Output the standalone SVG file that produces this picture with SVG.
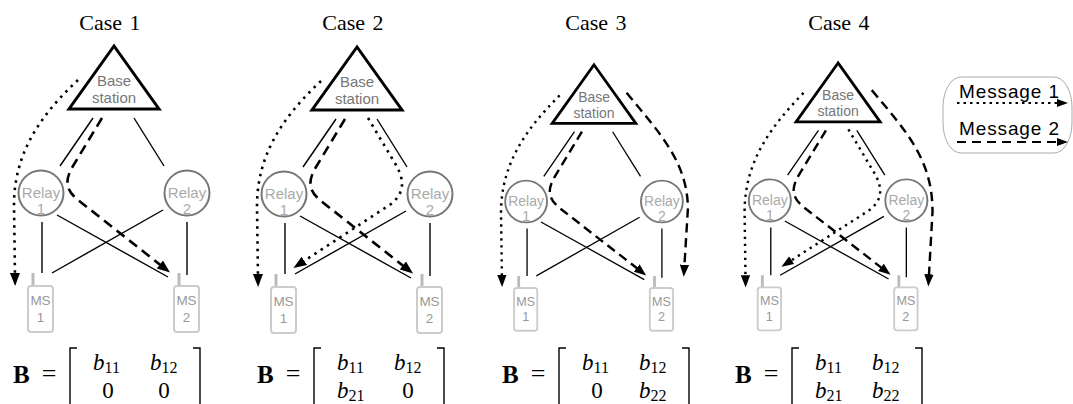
<svg xmlns="http://www.w3.org/2000/svg" width="1073" height="404" viewBox="0 0 1073 404">
<defs>
<style>
.title{font-family:"Liberation Serif","Times New Roman",serif;font-size:22px;fill:#000;text-anchor:middle;word-spacing:2px}
.bs{fill:#fff;stroke:#000;stroke-width:3;stroke-linejoin:miter}
.bst{font-family:"Liberation Sans",Arial,sans-serif;font-size:15px;fill:#777;text-anchor:middle}
.relay{fill:#fff;stroke:#777;stroke-width:2}
.rt{font-family:"Liberation Sans",Arial,sans-serif;font-size:15px;fill:#aaa;text-anchor:middle}
.ms{fill:#fff;stroke:#ccc;stroke-width:2}
.ant{stroke:#bbb;stroke-width:3}
.mst{font-family:"Liberation Sans",Arial,sans-serif;font-size:13.5px;fill:#999;text-anchor:middle}
.link{stroke:#000;stroke-width:1.4;fill:none}
.m1{stroke:#000;stroke-width:2.6;fill:none;stroke-dasharray:2.5 5;marker-end:url(#ah)}
.m2{stroke:#000;stroke-width:2.6;fill:none;stroke-dasharray:10 6;marker-end:url(#ah)}
.mx{font-family:"Liberation Serif","Times New Roman",serif;font-size:23px;fill:#000}
.mb{font-weight:bold;font-size:25px}
.it{font-style:italic}
.sub{font-size:16px}
.br{stroke:#000;stroke-width:1.4;fill:none}
.leg{font-family:"Liberation Sans",Arial,sans-serif;font-size:19px;fill:#000}
</style>
<marker id="ah" markerUnits="userSpaceOnUse" markerWidth="14" markerHeight="12" viewBox="0 0 14 12" refX="4" refY="6" orient="auto">
<path d="M0,1 L13,6 L0,11 z" fill="#000"/>
</marker>
<marker id="ahs" markerUnits="userSpaceOnUse" markerWidth="12" markerHeight="10" viewBox="0 0 12 10" refX="3" refY="5" orient="auto">
<path d="M0,1 L11,5 L0,9 z" fill="#000"/>
</marker>
</defs>
<rect width="1073" height="404" fill="#fff"/>

<g id="titles">
<text class="title" x="110" y="30">Case 1</text>
<text class="title" x="353" y="30">Case 2</text>
<text class="title" x="596" y="30">Case 3</text>
<text class="title" x="839" y="30">Case 4</text>
</g>

<!-- Case 1 -->
<g id="case1">
<g id="c1-links">
<line class="link" x1="93" y1="118" x2="60" y2="166"/>
<line class="link" x1="134" y1="118" x2="164" y2="166"/>
<line class="link" x1="42" y1="222" x2="42" y2="273"/>
<line class="link" x1="57" y1="215" x2="168" y2="277"/>
<line class="link" x1="163" y1="210" x2="52" y2="273"/>
<line class="link" x1="187" y1="222" x2="187" y2="275"/>
<path class="m1" d="M78,80 C44,112 14,150 14,205 L15,277"/>
<path class="m2" d="M102,118 L73,166 C64,181 66,190 78,200 L163,267"/>
</g>
<g id="c1-bs"><polygon class="bs" points="114,46 69,109 159,109"/><text class="bst" x="114" y="86">Base</text><text class="bst" x="114" y="103">station</text></g>
<g id="c1-r1"><circle class="relay" cx="41" cy="193" r="22.5"/><text class="rt" x="41" y="198">Relay</text><text class="rt" x="41" y="214">1</text></g>
<g id="c1-r2"><circle class="relay" cx="187" cy="193" r="22.5"/><text class="rt" x="187" y="198">Relay</text><text class="rt" x="187" y="214">2</text></g>
<g id="c1-ms1"><line class="ant" x1="33" y1="273" x2="33" y2="286"/><rect class="ms" x="28" y="286" width="25" height="46" rx="3"/><text class="mst" x="40.5" y="305">MS</text><text class="mst" x="40.5" y="322">1</text></g>
<g id="c1-ms2"><line class="ant" x1="179" y1="273" x2="179" y2="286"/><rect class="ms" x="174" y="286" width="25" height="46" rx="3"/><text class="mst" x="186.5" y="305">MS</text><text class="mst" x="186.5" y="322">2</text></g>
</g>

<!-- Case 2 -->
<g id="case2" transform="translate(243,1)">
<g id="c2-links">
<line class="link" x1="93" y1="118" x2="60" y2="166"/>
<line class="link" x1="134" y1="118" x2="164" y2="166"/>
<line class="link" x1="42" y1="222" x2="42" y2="273"/>
<line class="link" x1="57" y1="215" x2="168" y2="277"/>
<line class="link" x1="163" y1="210" x2="52" y2="273"/>
<line class="link" x1="187" y1="222" x2="187" y2="275"/>
<path class="m1" d="M78,80 C44,112 14,150 14,205 L15,277"/>
<path class="m2" d="M102,118 L73,166 C64,181 66,190 78,200 L163,267"/>
<path class="m1" d="M125,117 L153,164 C163,182 160,193 148,203 L58,262"/>
</g>
<g id="c2-bs"><polygon class="bs" points="114,46 69,109 159,109"/><text class="bst" x="114" y="86">Base</text><text class="bst" x="114" y="103">station</text></g>
<g id="c2-r1"><circle class="relay" cx="41" cy="193" r="22.5"/><text class="rt" x="41" y="198">Relay</text><text class="rt" x="41" y="214">1</text></g>
<g id="c2-r2"><circle class="relay" cx="187" cy="193" r="22.5"/><text class="rt" x="187" y="198">Relay</text><text class="rt" x="187" y="214">2</text></g>
<g id="c2-ms1"><line class="ant" x1="33" y1="273" x2="33" y2="286"/><rect class="ms" x="28" y="286" width="25" height="46" rx="3"/><text class="mst" x="40.5" y="305">MS</text><text class="mst" x="40.5" y="322">1</text></g>
<g id="c2-ms2"><line class="ant" x1="179" y1="273" x2="179" y2="286"/><rect class="ms" x="174" y="286" width="25" height="46" rx="3"/><text class="mst" x="186.5" y="305">MS</text><text class="mst" x="186.5" y="322">2</text></g>
</g>

<!-- Case 3 -->
<g id="case3" transform="matrix(0.93 0 0 0.93 488 22)">
<g id="c3-links">
<line class="link" x1="93" y1="118" x2="60" y2="166"/>
<line class="link" x1="134" y1="118" x2="164" y2="166"/>
<line class="link" x1="42" y1="222" x2="42" y2="273"/>
<line class="link" x1="57" y1="215" x2="168" y2="277"/>
<line class="link" x1="163" y1="210" x2="52" y2="273"/>
<line class="link" x1="187" y1="222" x2="187" y2="275"/>
<path class="m1" d="M77,79 C44,112 14,150 14,205 L15,276"/>
<path class="m2" d="M101,118 L72,166 C63,181 65,190 77,200 L163,267"/>
<path class="m2" d="M149,76 C185,120 214,150 215,200 L211,265"/>
</g>
<g id="c3-bs"><polygon class="bs" points="114,46 69,109 159,109"/><text class="bst" x="114" y="86">Base</text><text class="bst" x="114" y="103">station</text></g>
<g id="c3-r1"><circle class="relay" cx="41" cy="193" r="22.5"/><text class="rt" x="41" y="198">Relay</text><text class="rt" x="41" y="214">1</text></g>
<g id="c3-r2"><circle class="relay" cx="187" cy="193" r="22.5"/><text class="rt" x="187" y="198">Relay</text><text class="rt" x="187" y="214">2</text></g>
<g id="c3-ms1"><line class="ant" x1="33" y1="273" x2="33" y2="286"/><rect class="ms" x="28" y="286" width="25" height="46" rx="3"/><text class="mst" x="40.5" y="305">MS</text><text class="mst" x="40.5" y="322">1</text></g>
<g id="c3-ms2"><line class="ant" x1="179" y1="273" x2="179" y2="286"/><rect class="ms" x="174" y="286" width="25" height="46" rx="3"/><text class="mst" x="186.5" y="305">MS</text><text class="mst" x="186.5" y="322">2</text></g>
</g>

<!-- Case 4 -->
<g id="case4" transform="matrix(0.935 0 0 0.935 731.5 20)">
<g id="c4-links">
<line class="link" x1="93" y1="118" x2="60" y2="166"/>
<line class="link" x1="134" y1="118" x2="164" y2="166"/>
<line class="link" x1="42" y1="222" x2="42" y2="273"/>
<line class="link" x1="57" y1="215" x2="168" y2="277"/>
<line class="link" x1="163" y1="210" x2="52" y2="273"/>
<line class="link" x1="187" y1="222" x2="187" y2="275"/>
<path class="m1" d="M77,78 C44,112 14,150 14,205 L15,277"/>
<path class="m2" d="M101,118 L72,166 C63,181 65,190 77,200 L163,267"/>
<path class="m1" d="M125,117 L153,164 C163,182 160,193 148,203 L61,259"/>
<path class="m2" d="M150,75 C188,120 215,150 215,205 L211,276"/>
</g>
<g id="c4-bs"><polygon class="bs" points="114,46 69,109 159,109"/><text class="bst" x="114" y="86">Base</text><text class="bst" x="114" y="103">station</text></g>
<g id="c4-r1"><circle class="relay" cx="41" cy="193" r="22.5"/><text class="rt" x="41" y="198">Relay</text><text class="rt" x="41" y="214">1</text></g>
<g id="c4-r2"><circle class="relay" cx="187" cy="193" r="22.5"/><text class="rt" x="187" y="198">Relay</text><text class="rt" x="187" y="214">2</text></g>
<g id="c4-ms1"><line class="ant" x1="33" y1="273" x2="33" y2="286"/><rect class="ms" x="28" y="286" width="25" height="46" rx="3"/><text class="mst" x="40.5" y="305">MS</text><text class="mst" x="40.5" y="322">1</text></g>
<g id="c4-ms2"><line class="ant" x1="179" y1="273" x2="179" y2="286"/><rect class="ms" x="174" y="286" width="25" height="46" rx="3"/><text class="mst" x="186.5" y="305">MS</text><text class="mst" x="186.5" y="322">2</text></g>
</g>

<!-- Matrices -->
<g id="matrix1" class="mx">
<text x="13" y="383" class="mb">B</text>
<text x="49" y="382" text-anchor="middle" font-size="26">=</text>
<path class="br" d="M77,348 H70 V412 H77 M193,348 H200 V412 H193"/>
<text x="93" y="370" class="it">b<tspan class="sub" font-style="normal" dy="3">11</tspan></text>
<text x="150" y="370" class="it">b<tspan class="sub" font-style="normal" dy="3">12</tspan></text>
<text x="108" y="398" text-anchor="middle">0</text>
<text x="164" y="398" text-anchor="middle">0</text>
</g>
<g id="matrix2" class="mx" transform="translate(244,0)">
<text x="13" y="383" class="mb">B</text>
<text x="49" y="382" text-anchor="middle" font-size="26">=</text>
<path class="br" d="M77,348 H70 V412 H77 M193,348 H200 V412 H193"/>
<text x="93" y="370" class="it">b<tspan class="sub" font-style="normal" dy="3">11</tspan></text>
<text x="150" y="370" class="it">b<tspan class="sub" font-style="normal" dy="3">12</tspan></text>
<text x="93" y="398" class="it">b<tspan class="sub" font-style="normal" dy="3">21</tspan></text>
<text x="164" y="398" text-anchor="middle">0</text>
</g>
<g id="matrix3" class="mx" transform="translate(489,0)">
<text x="13" y="383" class="mb">B</text>
<text x="49" y="382" text-anchor="middle" font-size="26">=</text>
<path class="br" d="M77,348 H70 V412 H77 M193,348 H200 V412 H193"/>
<text x="93" y="370" class="it">b<tspan class="sub" font-style="normal" dy="3">11</tspan></text>
<text x="150" y="370" class="it">b<tspan class="sub" font-style="normal" dy="3">12</tspan></text>
<text x="108" y="398" text-anchor="middle">0</text>
<text x="150" y="398" class="it">b<tspan class="sub" font-style="normal" dy="3">22</tspan></text>
</g>
<g id="matrix4" class="mx" transform="translate(722,0)">
<text x="13" y="383" class="mb">B</text>
<text x="49" y="382" text-anchor="middle" font-size="26">=</text>
<path class="br" d="M77,348 H70 V412 H77 M193,348 H200 V412 H193"/>
<text x="93" y="370" class="it">b<tspan class="sub" font-style="normal" dy="3">11</tspan></text>
<text x="150" y="370" class="it">b<tspan class="sub" font-style="normal" dy="3">12</tspan></text>
<text x="93" y="398" class="it">b<tspan class="sub" font-style="normal" dy="3">21</tspan></text>
<text x="150" y="398" class="it">b<tspan class="sub" font-style="normal" dy="3">22</tspan></text>
</g>

<!-- Legend -->
<g id="legend">
<rect x="943" y="77" width="129" height="76" rx="18" ry="30" fill="none" stroke="#aaa" stroke-width="1"/>
<text class="leg" x="959" y="98" textLength="100" lengthAdjust="spacing">Message 1</text>
<line x1="957" y1="103" x2="1060" y2="103" stroke="#000" stroke-width="2" stroke-dasharray="2.5 4" marker-end="url(#ahs)"/>
<text class="leg" x="959" y="135" textLength="100" lengthAdjust="spacing">Message 2</text>
<line x1="957" y1="142" x2="1060" y2="142" stroke="#000" stroke-width="2" stroke-dasharray="9 6" marker-end="url(#ahs)"/>
</g>
</svg>
